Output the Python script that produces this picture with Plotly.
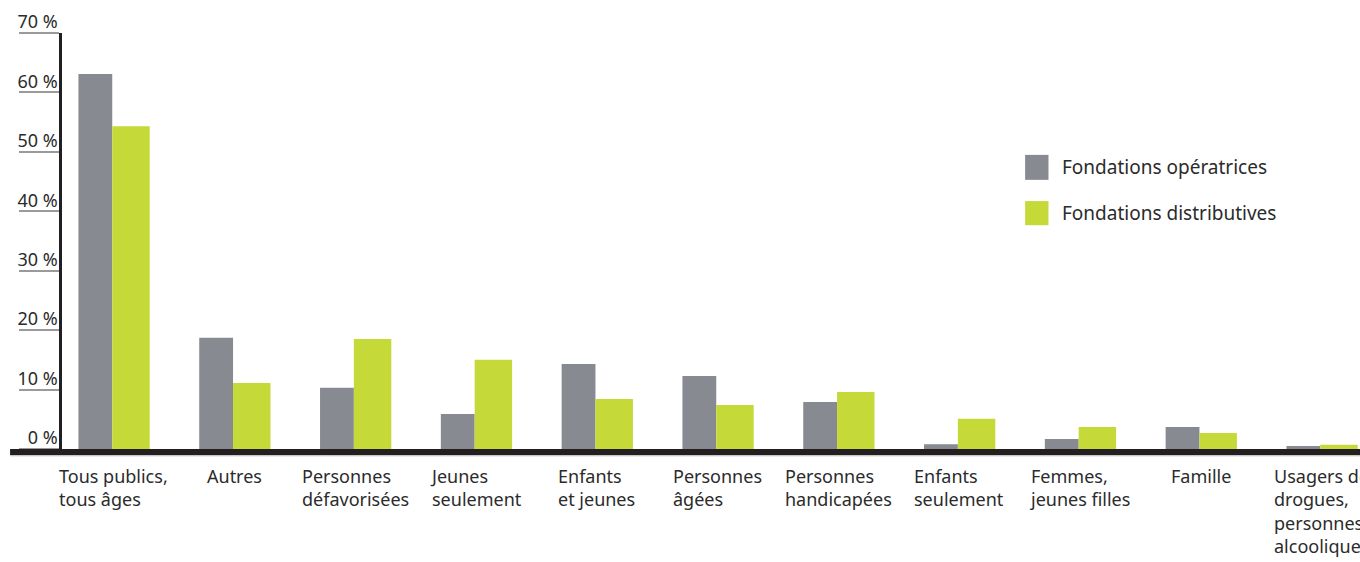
import plotly.graph_objects as go

categories = ["Tous publics, tous âges", "Autres", "Personnes défavorisées", "Jeunes seulement",
              "Enfants et jeunes", "Personnes âgées", "Personnes handicapées", "Enfants seulement",
              "Femmes, jeunes filles", "Famille", "Usagers de drogues, personnes alcooliques"]
category_labels = ["Tous publics,<br>tous âges", "Autres", "Personnes<br>défavorisées", "Jeunes<br>seulement",
                   "Enfants<br>et jeunes", "Personnes<br>âgées", "Personnes<br>handicapées", "Enfants<br>seulement",
                   "Femmes,<br>jeunes filles", "Famille", "Usagers de<br>drogues,<br>personnes<br>alcooliques"]
operatrices = [63.1, 18.7, 10.3, 5.9, 14.3, 12.3, 7.9, 0.8, 1.7, 3.7, 0.5]
distributives = [54.3, 11.1, 18.5, 15.0, 8.4, 7.4, 9.6, 5.1, 3.7, 2.7, 0.7]
series_names = ["Fondations opératrices", "Fondations distributives"]
y_tickvals = [0, 10, 20, 30, 40, 50, 60, 70]
y_ticktext = ["0 %", "10 %", "20 %", "30 %", "40 %", "50 %", "60 %", "70 %"]

GRAY = "#878a91"
GREEN = "#c5d939"
TEXT = "#2b2b2b"
FONT = "Noto Sans"

fig = go.Figure()
fig.add_trace(go.Bar(x=categories, y=operatrices, name=series_names[0], marker_color=GRAY,
                     marker_line_width=0, offset=-0.29, width=0.28, showlegend=False))
fig.add_trace(go.Bar(x=categories, y=distributives, name=series_names[1], marker_color=GREEN,
                     marker_line_width=0, offset=-0.01, width=0.31, showlegend=False))

# category labels (left-aligned multi-line blocks centred under each pair)
for cat, lab in zip(categories, category_labels):
    fig.add_annotation(x=cat, y=0, xref="x", yref="paper", yanchor="top", xanchor="center",
                       text=lab, align="left", showarrow=False, yshift=-13,
                       font=dict(family=FONT, size=18, color=TEXT))

# custom legend
legend_items = [(series_names[0], GRAY, 0.707, 0.647), (series_names[1], GREEN, 0.596, 0.538)]
for name, col, ytop, ybot in legend_items:
    fig.add_shape(type="rect", xref="paper", yref="paper", x0=0.742, x1=0.760, y0=ybot, y1=ytop,
                  fillcolor=col, line_width=0)
    fig.add_annotation(xref="paper", yref="paper", x=0.7685, y=(ytop + ybot) / 2, xanchor="left",
                       yanchor="middle", text=name, showarrow=False,
                       font=dict(family=FONT, size=19, color=TEXT))

# thick baseline extending to the left
fig.add_shape(type="rect", xref="paper", yref="paper", x0=-0.040, x1=1.0, y0=-0.0150, y1=0.0,
              fillcolor="#231f20", line_width=0, layer="above")
fig.add_shape(type="line", xref="paper", yref="paper", x0=-0.040, x1=1.0, y0=-0.0165, y1=-0.0165,
              line=dict(color="#c8c8c8", width=1), layer="above")

fig.update_layout(
    width=1360, height=562,
    margin=dict(l=62, r=0, t=33, b=113, pad=0),
    plot_bgcolor="white", paper_bgcolor="white",
    barmode="overlay",
    font=dict(family=FONT, size=18, color=TEXT),
    xaxis=dict(range=[-0.426, 10.319], showticklabels=False, showgrid=False, zeroline=False,
               showline=False, ticks=""),
    yaxis=dict(range=[0, 70], tickvals=y_tickvals, ticktext=y_ticktext, showgrid=False,
               zeroline=False, showline=True, linecolor="#231f20", linewidth=2.5,
               ticks="outside", ticklen=40, tickcolor="#9a9a9a", tickwidth=1.5,
               ticklabelstandoff=-42, ticklabelshift=-11,
               tickfont=dict(family=FONT, size=18, color=TEXT)),
)

fig.write_html("out.html", config={"displayModeBar": False},
               post_script="document.body.style.margin='0';document.body.style.overflow='hidden';")
